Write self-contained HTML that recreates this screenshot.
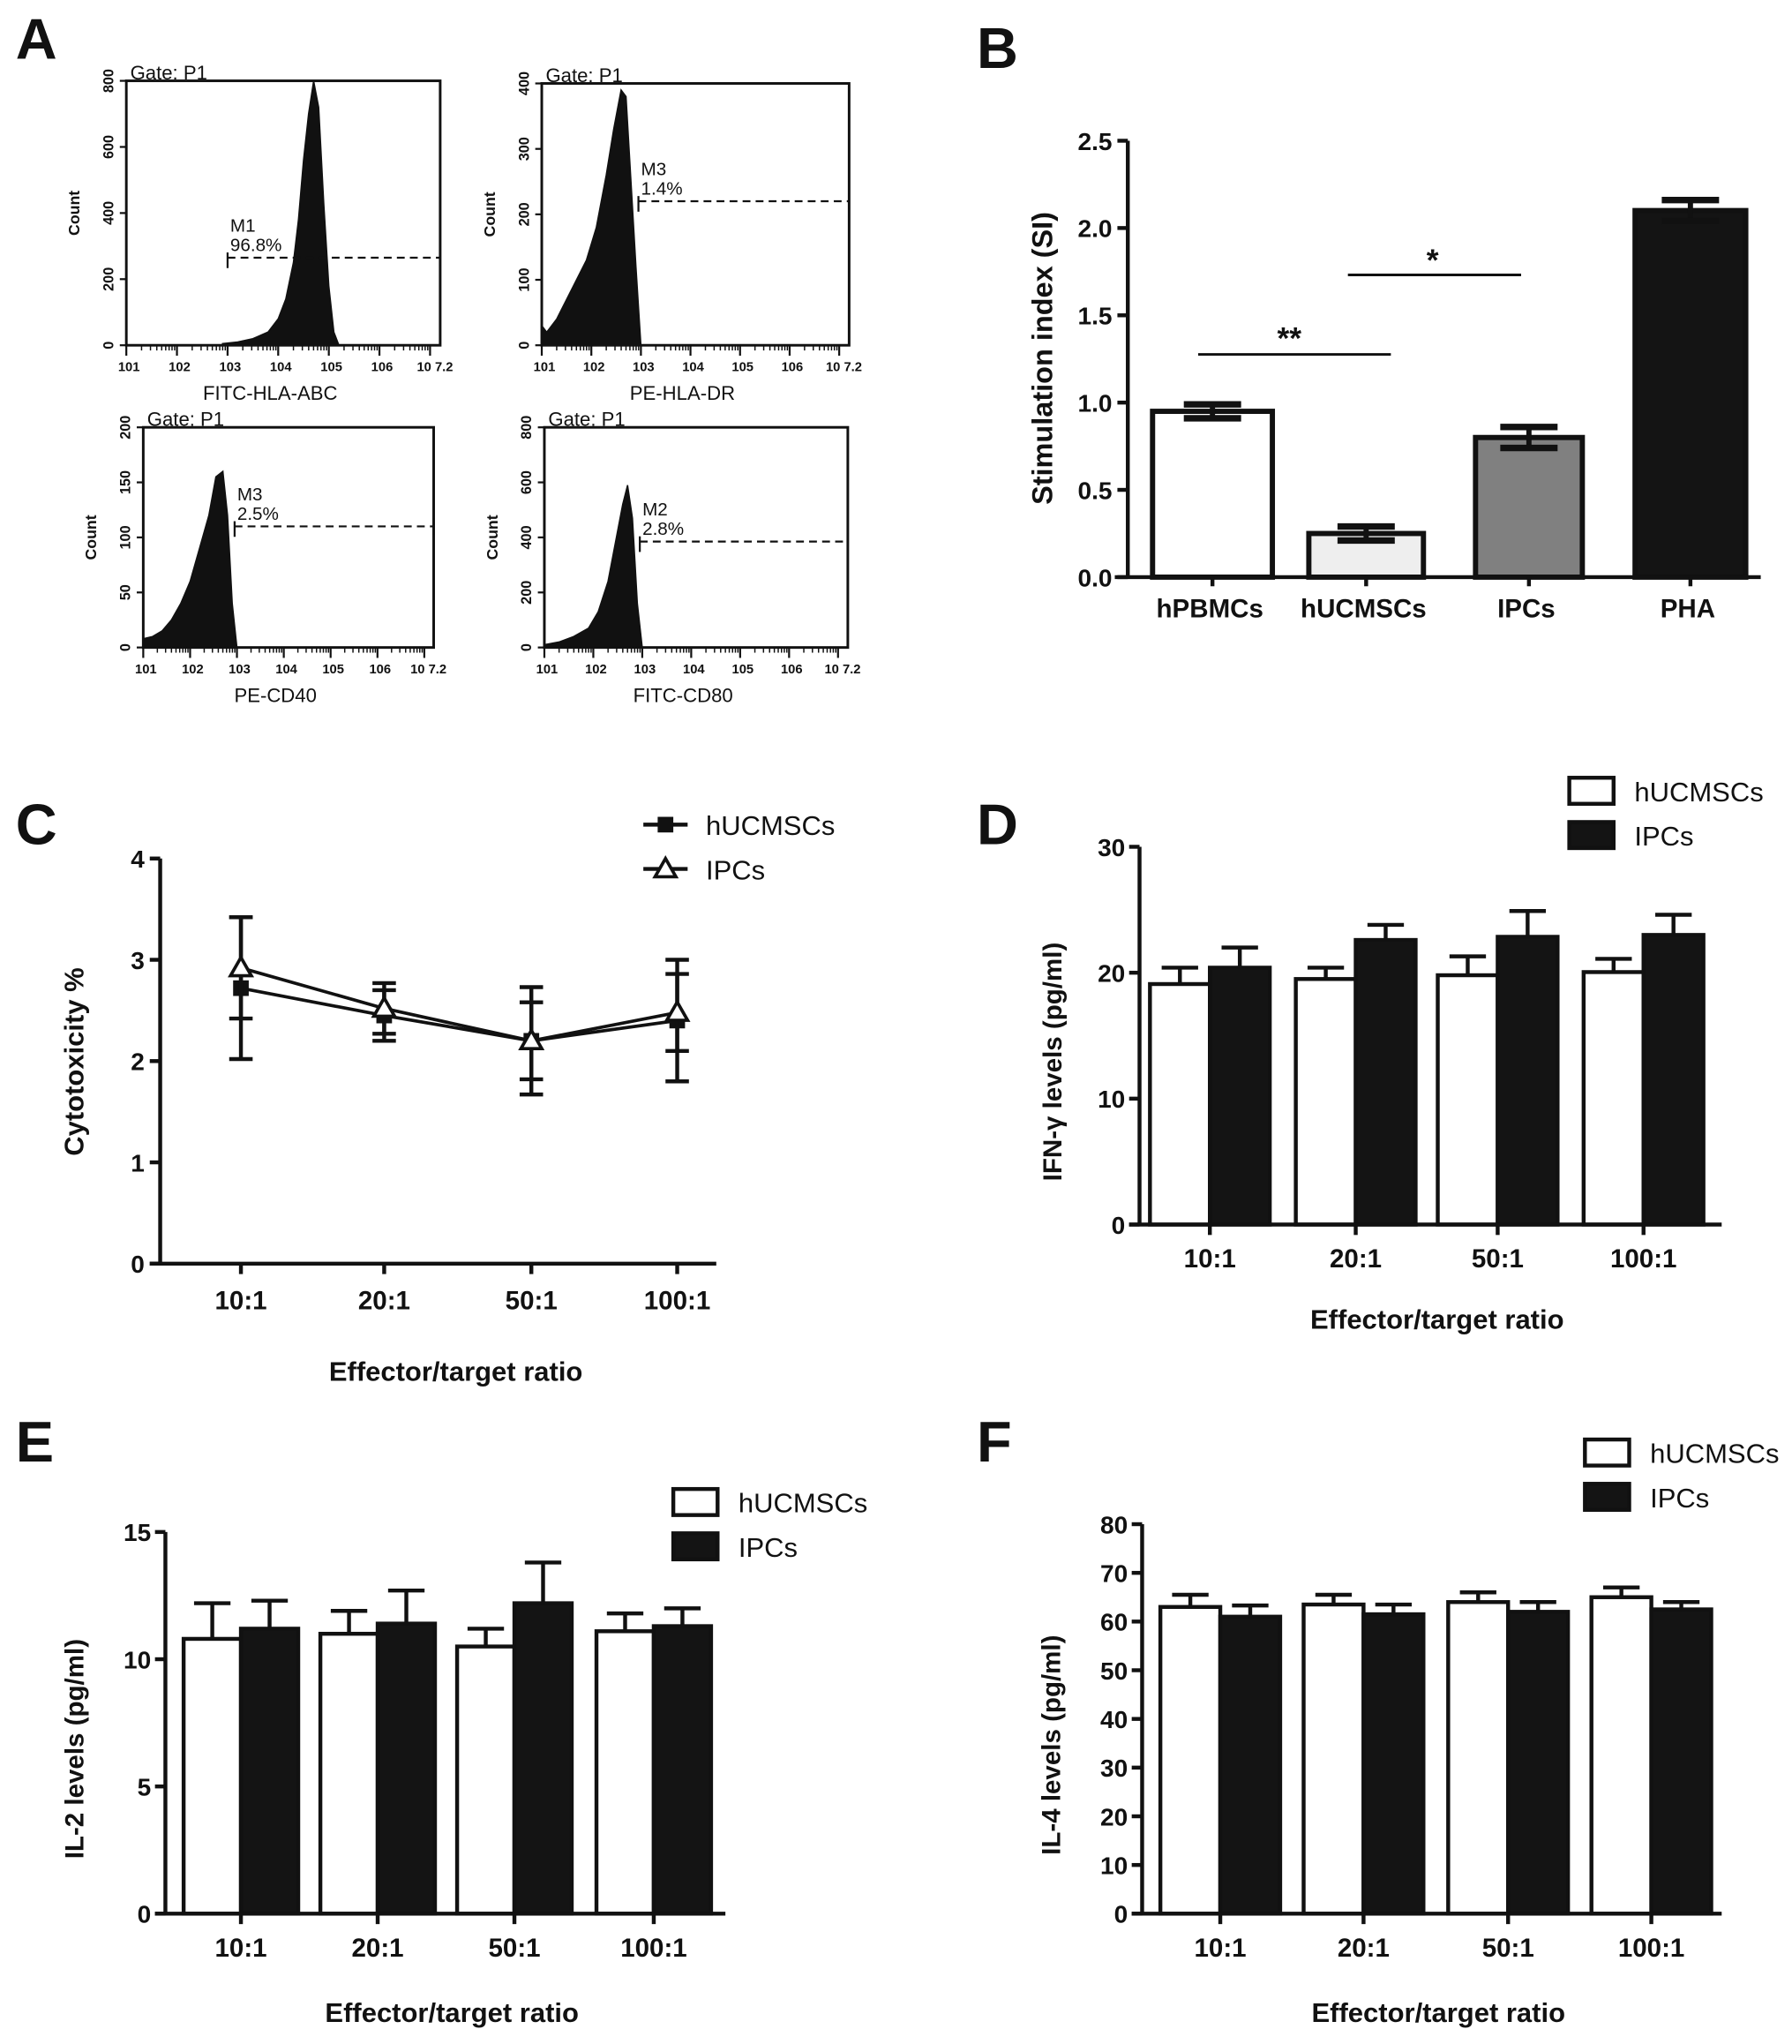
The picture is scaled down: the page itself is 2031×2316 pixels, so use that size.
<!DOCTYPE html>
<html><head><meta charset="utf-8"><style>
html,body{margin:0;padding:0;background:#fff;}
svg{display:block;font-family:"Liberation Sans",Arial,sans-serif;}
</style></head><body>
<svg id="fig" width="2031" height="2316" viewBox="0 0 1376 1569" xmlns="http://www.w3.org/2000/svg">
<g id="root"></g>
</svg>
<script>
// ---------- Panel B data ----------
const bCats = ['hPBMCs','hUCMSCs','IPCs','PHA'];
const bVals = [0.95, 0.25, 0.80, 2.10];
const bErrs = [0.04, 0.04, 0.06, 0.06];
const bTicks = ['0.0','0.5','1.0','1.5','2.0','2.5'];
// ---------- Panel C data ----------
const cCats = ['10:1','20:1','50:1','100:1'];
const cU = [2.72, 2.45, 2.20, 2.40];
const cUe = [0.70, 0.25, 0.53, 0.60];
const cI = [2.92, 2.52, 2.20, 2.48];
const cIe = [0.50, 0.25, 0.38, 0.38];
const cTicks = ['0','1','2','3','4'];
// ---------- Panel D data ----------
const dU = [19.1, 19.5, 19.8, 20.05];
const dUe = [1.3, 0.9, 1.5, 1.05];
const dI = [20.4, 22.6, 22.85, 23.0];
const dIe = [1.6, 1.2, 2.05, 1.6];
const dTicks = ['0','10','20','30'];
// ---------- Panel E data ----------
const eU = [10.8, 11.0, 10.5, 11.1];
const eUe = [1.4, 0.9, 0.7, 0.7];
const eI = [11.2, 11.4, 12.2, 11.3];
const eIe = [1.1, 1.3, 1.6, 0.7];
const eTicks = ['0','5','10','15'];
// ---------- Panel F data ----------
const fU = [63, 63.5, 64, 65];
const fUe = [2.5, 2.0, 2.0, 2.0];
const fI = [61, 61.5, 62, 62.5];
const fIe = [2.3, 2.0, 2.0, 1.5];
const fTicks = ['0','10','20','30','40','50','60','70','80'];
// ---------- Panel A histogram data (log position, count) ----------
const h1Pos = [2.9,3.2,3.5,3.8,4.0,4.15,4.3,4.4,4.5,4.6,4.7,4.8,4.9,5.0,5.1,5.2];
const h1Cnt = [5,10,20,40,80,140,250,380,560,700,800,720,430,180,40,0];
const h2Pos = [1.0,1.1,1.3,1.5,1.7,1.9,2.1,2.3,2.45,2.6,2.7,2.8,2.9,3.0];
const h2Cnt = [30,20,40,70,100,130,180,260,330,390,380,250,120,0];
const h3Pos = [1.0,1.2,1.4,1.6,1.8,2.0,2.2,2.4,2.55,2.7,2.8,2.9,3.0];
const h3Cnt = [8,10,15,25,40,60,90,120,155,160,120,40,0];
const h4Pos = [1.0,1.3,1.6,1.9,2.1,2.3,2.45,2.6,2.7,2.8,2.9,3.0];
const h4Cnt = [10,20,40,70,130,240,380,520,590,470,160,0];

const NS='http://www.w3.org/2000/svg';
const root=document.getElementById('root');
function el(tag,attrs,parent,text){const e=document.createElementNS(NS,tag);for(const k in attrs)e.setAttribute(k,attrs[k]);if(text!==undefined)e.textContent=text;(parent||root).appendChild(e);return e;}
function grp(name){const g=el('g',{});return g;}
function txt(g,x,y,s,size,opts){opts=opts||{};const t=el('text',{x:x,y:y,'font-size':size,'text-anchor':opts.anchor||'middle','font-weight':opts.bold===false?'normal':'bold',fill:'#111'},g,s);if(opts.rot)t.setAttribute('transform','rotate('+opts.rot+' '+x+' '+y+')');return t;}
function line(g,x1,y1,x2,y2,w,dash){const l=el('line',{x1:x1,y1:y1,x2:x2,y2:y2,stroke:'#111','stroke-width':w||3},g);if(dash)l.setAttribute('stroke-dasharray',dash);return l;}

[['A',12,45],['B',750,52],['C',12,648],['D',750,648],['E',12,1122],['F',750,1122]].forEach(p=>{
  const g=grp('panel-label-'+p[0].toLowerCase());txt(g,p[1],p[2],p[0],44,{anchor:'start'});
});

// ---------- Panel A ----------
function hist(name,x0,y0,x1,y1,maxC,yTicks,pos,cnt,xlabel,mName,mPct,mY,mX){
  const g=grp(name);
  el('rect',{x:x0,y:y0,width:x1-x0,height:y1-y0,fill:'none',stroke:'#111','stroke-width':2},g);
  const sx=v=>x0+(v-1)/(7.2-1)*(x1-x0);
  const sy=c=>y1-c/maxC*(y1-y0);
  let d='M'+sx(pos[0])+','+y1;
  for(let i=0;i<pos.length;i++){d+=' L'+sx(pos[i])+','+sy(cnt[i]);}
  d+=' L'+sx(pos[pos.length-1])+','+y1+' Z';
  const p=el('path',{d:d,fill:'#111',stroke:'#111','stroke-width':1},g);
  
  txt(g,x0+3,y0-1,'Gate: P1',15,{anchor:'start',bold:false});
  yTicks.forEach(v=>{const y=sy(v);line(g,x0-5,y,x0,y,1.5);txt(g,x0-10,y,String(v),11,{rot:-90});});
  txt(g,x0-36,(y0+y1)/2,'Count',12,{rot:-90});
  for(let d2=1;d2<=7;d2++){const x=sx(d2);line(g,x,y1,x,y1+8,1.5);
    for(let k=2;k<10;k++){const xx=sx(d2+Math.log10(k));if(xx<x1)line(g,xx,y1,xx,y1+4,1);}
    if(d2<7)txt(g,x+2,y1+20,'10'+String(d2),10,{});}
  txt(g,x1-4,y1+20,'10 7.2',10,{});
  txt(g,(x0+x1)/2-10,y1+42,xlabel,15,{bold:false});
  const my=sy(mY), mx=sx(mX);
  line(g,mx,my,x1,my,1.5,'6,4');line(g,mx,my-4,mx,my+8,1.5);line(g,x1,my-6,x1,my+6,1.5);
  txt(g,mx+2,my-20,mName,14,{anchor:'start',bold:false});
  txt(g,mx+2,my-5,mPct,14,{anchor:'start',bold:false});
}
hist('histogram-hla-abc',97,62,338,265,800,[0,200,400,600,800],h1Pos,h1Cnt,'FITC-HLA-ABC','M1','96.8%',265,3.0);
hist('histogram-hla-dr',416,64,652,265,400,[0,100,200,300,400],h2Pos,h2Cnt,'PE-HLA-DR','M3','1.4%',220,2.95);
hist('histogram-cd40',110,328,333,497,200,[0,50,100,150,200],h3Pos,h3Cnt,'PE-CD40','M3','2.5%',110,2.95);
hist('histogram-cd80',418,328,651,497,800,[0,200,400,600,800],h4Pos,h4Cnt,'FITC-CD80','M2','2.8%',385,2.95);

// ---------- Panel B ----------
(function(){
  const g=grp('chart-b');
  const x0=866,y0=443,yTop=108,xEnd=1352;
  const sy=v=>y0-v/2.5*(y0-yTop);
  const cx=[931,1049,1174,1298], bw=[92,88,82,85];
  const fills=['#fff','#eee','#808080','#141414'];
  bVals.forEach((v,i)=>{
    const r=el('rect',{x:cx[i]-bw[i]/2,y:sy(v),width:bw[i],height:y0-sy(v),fill:fills[i],stroke:'#111','stroke-width':4},g);
    
    line(g,cx[i],sy(v-bErrs[i]),cx[i],sy(v+bErrs[i]),4);
    line(g,cx[i]-22,sy(v+bErrs[i]),cx[i]+22,sy(v+bErrs[i]),5);
    line(g,cx[i]-22,sy(v-bErrs[i]),cx[i]+22,sy(v-bErrs[i]),5);
    txt(g,cx[i]-2,y0+31,bCats[i],20);
  });
  line(g,x0,yTop,x0,y0+1,3);line(g,x0-10,y0,xEnd,y0,3);
  bTicks.forEach((t,i)=>{const y=sy(i*0.5);line(g,x0-8,y,x0,y,3);txt(g,x0-12,y+7,t,19,{anchor:'end'});});
  bCats.forEach((c,i)=>line(g,cx[i],y0,cx[i],y0+7,3));
  txt(g,808,275,'Stimulation index (SI)',22,{rot:-90});
  line(g,920,272,1068,272,2);txt(g,990,268,'**',24);
  line(g,1035,211,1168,211,2);txt(g,1100,208,'*',24);
})();

function grouped(name,x0,y0,yTop,xEnd,maxV,ticks,tickStep,centers,bw,U,Ue,I,Ie,ylab,ylx,xlabY,legX,legY){
  const g=grp(name);
  const sy=v=>y0-v/maxV*(y0-yTop);
  U.forEach((v,i)=>{
    const c=centers[i];
    line(g,c-bw/2,sy(v),c-bw/2,sy(v+Ue[i]),3);line(g,c-bw/2-14,sy(v+Ue[i]),c-bw/2+14,sy(v+Ue[i]),3);
    const r=el('rect',{x:c-bw,y:sy(v),width:bw,height:y0-sy(v),fill:'#fff',stroke:'#111','stroke-width':3},g);
    
    const v2=I[i];
    line(g,c+bw/2,sy(v2),c+bw/2,sy(v2+Ie[i]),3);line(g,c+bw/2-14,sy(v2+Ie[i]),c+bw/2+14,sy(v2+Ie[i]),3);
    const r2=el('rect',{x:c,y:sy(v2),width:bw,height:y0-sy(v2),fill:'#141414',stroke:'#111','stroke-width':3},g);
    
    line(g,c,y0,c,y0+8,3);
    txt(g,c,y0+33,cCats[i],20);
  });
  line(g,x0,yTop,x0,y0+1,3);line(g,x0-8,y0,xEnd,y0,3);
  ticks.forEach((t,i)=>{const y=sy(i*tickStep);line(g,x0-8,y,x0,y,3);txt(g,x0-11,y+7,t,19,{anchor:'end'});});
  txt(g,ylx,(y0+yTop)/2+20,ylab,20,{rot:-90});
  txt(g,(x0+xEnd)/2+5,xlabY,'Effector/target ratio',21);
  const l1=el('rect',{x:legX,y:legY-10,width:34,height:20,fill:'#fff',stroke:'#111','stroke-width':3},g);
  
  const l2=el('rect',{x:legX,y:legY+24,width:34,height:20,fill:'#141414',stroke:'#111','stroke-width':3},g);
  
  txt(g,legX+50,legY+8,'hUCMSCs',21,{anchor:'start',bold:false});
  txt(g,legX+50,legY+42,'IPCs',21,{anchor:'start',bold:false});
}
grouped('chart-d',875,940,650,1322,30,dTicks,10,[929,1041,1150,1262],46,dU,dUe,dI,dIe,'IFN-γ levels (pg/ml)',815,1020,1205,607);
grouped('chart-e',127,1469,1176,557,15,eTicks,5,[185,290,395,502],44,eU,eUe,eI,eIe,'IL-2 levels (pg/ml)',64,1552,517,1153);
grouped('chart-f',877,1469,1170,1322,80,fTicks,10,[937,1047,1158,1268],46,fU,fUe,fI,fIe,'IL-4 levels (pg/ml)',814,1552,1217,1115);

// ---------- Panel C ----------
(function(){
  const g=grp('chart-c');
  const x0=123,y0=970,yTop=659,xEnd=550;
  const sy=v=>y0-v/4*(y0-yTop);
  const cx=[185,295,408,520];
  const drawSeries=(vals,errs,name,marker)=>{
    let d='';vals.forEach((v,i)=>{d+=(i?' L':'M')+cx[i]+','+sy(v);});
    const p=el('path',{d:d,fill:'none',stroke:'#111','stroke-width':2.5},g);
    
    vals.forEach((v,i)=>{
      const x=cx[i];line(g,x,sy(v-errs[i]),x,sy(v+errs[i]),3);
      line(g,x-9,sy(v+errs[i]),x+9,sy(v+errs[i]),3);line(g,x-9,sy(v-errs[i]),x+9,sy(v-errs[i]),3);
      let m;
      if(marker==='sq')m=el('rect',{x:x-6,y:sy(v)-6,width:12,height:12,fill:'#111'},g);
      else m=el('polygon',{points:(x)+','+(sy(v)-8)+' '+(x-8)+','+(sy(v)+6)+' '+(x+8)+','+(sy(v)+6),fill:'#fff',stroke:'#111','stroke-width':2.5},g);
      
    });
  };
  drawSeries(cU,cUe,'hucmscs','sq');
  drawSeries(cI,cIe,'ipcs','tri');
  line(g,x0,yTop,x0,y0+1,3);line(g,x0-8,y0,xEnd,y0,3);
  cTicks.forEach((t,i)=>{const y=sy(i);line(g,x0-8,y,x0,y,3);txt(g,x0-12,y+7,t,19,{anchor:'end'});});
  cCats.forEach((c,i)=>{line(g,cx[i],y0,cx[i],y0+8,3);txt(g,cx[i],y0+35,c,20);});
  txt(g,64,815,'Cytotoxicity %',21,{rot:-90});
  txt(g,350,1060,'Effector/target ratio',21);
  line(g,494,633,528,633,3);el('rect',{x:505,y:627,width:12,height:12,fill:'#111'},g);
  line(g,494,667,528,667,3);el('polygon',{points:'511,659 503,673 519,673',fill:'#fff',stroke:'#111','stroke-width':2.5},g);
  txt(g,542,641,'hUCMSCs',21,{anchor:'start',bold:false});
  txt(g,542,675,'IPCs',21,{anchor:'start',bold:false});
})();
</script>
</body></html>
